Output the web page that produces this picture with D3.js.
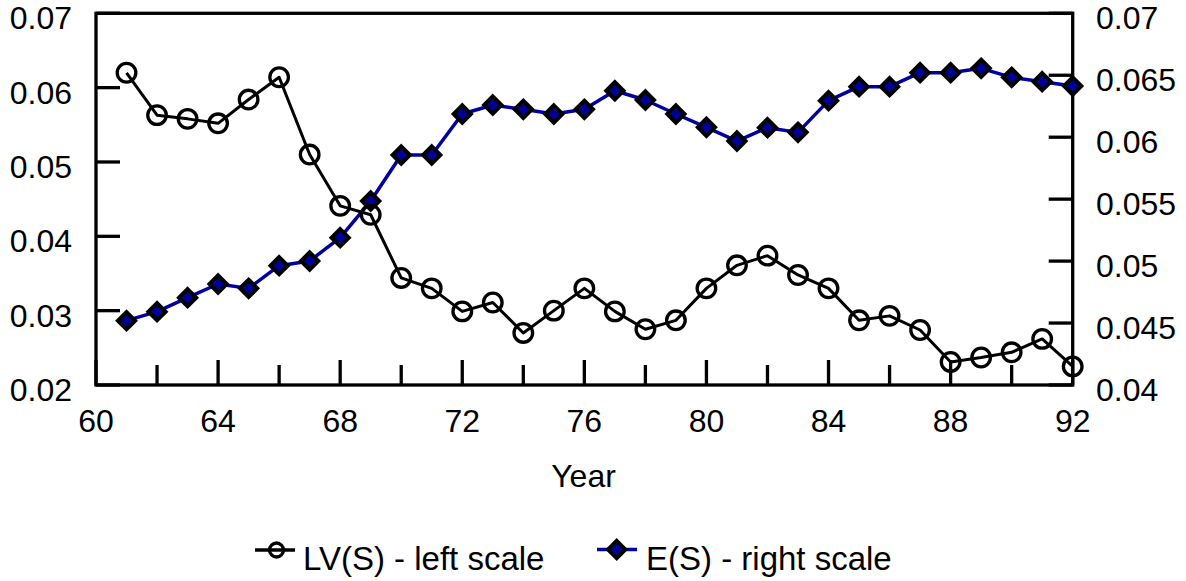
<!DOCTYPE html>
<html>
<head>
<meta charset="utf-8">
<script src="https://cdn.jsdelivr.net/npm/d3@7"></script>
<style>
  html, body { margin: 0; padding: 0; background: #fff; }
  svg { display: block; }
  text { font-family: "Liberation Sans", Arial, sans-serif; fill: #000; }
</style>
</head>
<body>
<svg id="chart" width="1186" height="581"></svg>
<script>
const years = [61,62,63,64,65,66,67,68,69,70,71,72,73,74,75,76,77,78,79,80,81,82,83,84,85,86,87,88,89,90,91,92];
const lvS = [0.0620,0.0563,0.0558,0.0552,0.0584,0.0614,0.0510,0.0441,0.0429,0.0344,0.0330,0.0299,0.0311,0.0270,0.0300,0.0330,0.0299,0.0275,0.0287,0.0330,0.0361,0.0374,0.0348,0.0330,0.0287,0.0293,0.0274,0.0231,0.0237,0.0244,0.0262,0.0225];
const eS = [0.04519,0.04592,0.04705,0.04815,0.04780,0.04963,0.05001,0.05189,0.05485,0.05856,0.05856,0.06187,0.06260,0.06225,0.06187,0.06225,0.06375,0.06300,0.06187,0.06080,0.05969,0.06077,0.06039,0.06295,0.06408,0.06408,0.06521,0.06521,0.06556,0.06483,0.06448,0.06413];
const xTicks = [60,62,64,66,68,70,72,74,76,78,80,82,84,86,88,90,92];
const xLabels = [60,64,68,72,76,80,84,88,92];
const leftTicks = [0.02,0.03,0.04,0.05,0.06,0.07];
const rightTicks = [0.04,0.045,0.05,0.055,0.06,0.065,0.07];
const seriesNames = ["LV(S) - left scale", "E(S) - right scale"];
const xTitle = "Year";

const svg = d3.select("#chart");
const L = 96, R = 1072.7, T = 13.3, B = 385;
const x = d3.scaleLinear().domain([60, 92]).range([L, R]);
const yL = d3.scaleLinear().domain([0.02, 0.07]).range([B, T]);
const yR = d3.scaleLinear().domain([0.04, 0.07]).range([B, T]);
const blue = "#0000a0";
const FS = 32;

// frame
svg.append("rect").attr("x", L).attr("y", T).attr("width", R - L).attr("height", B - T)
  .attr("fill", "none").attr("stroke", "#000").attr("stroke-width", 3.3);

// x ticks (inward)
svg.append("g").selectAll("line").data(xTicks).join("line")
  .attr("x1", d => x(d)).attr("x2", d => x(d))
  .attr("y1", B).attr("y2", d => B - (d % 4 === 0 ? 25 : 20))
  .attr("stroke", "#000").attr("stroke-width", 3.3);
svg.append("g").selectAll("text").data(xLabels).join("text")
  .attr("x", d => x(d)).attr("y", 432).attr("text-anchor", "middle")
  .attr("font-size", FS).text(d => d);

// left ticks
svg.append("g").selectAll("line").data(leftTicks).join("line")
  .attr("x1", L).attr("x2", L + 24).attr("y1", d => yL(d)).attr("y2", d => yL(d))
  .attr("stroke", "#000").attr("stroke-width", 3.3);
svg.append("g").selectAll("text").data(leftTicks).join("text")
  .attr("x", 72).attr("y", d => yL(d) + 16).attr("text-anchor", "end")
  .attr("font-size", FS).text(d => d3.format(".2f")(d));

// right ticks
svg.append("g").selectAll("line").data(rightTicks).join("line")
  .attr("x1", R - 24).attr("x2", R).attr("y1", d => yR(d)).attr("y2", d => yR(d))
  .attr("stroke", "#000").attr("stroke-width", 3.3);
svg.append("g").selectAll("text").data(rightTicks).join("text")
  .attr("x", 1096).attr("y", d => yR(d) + 16).attr("text-anchor", "start")
  .attr("font-size", FS).text(d => String(+d.toFixed(3)));

// axis title
svg.append("text").attr("x", 583.5).attr("y", 487).attr("font-size", FS)
  .attr("text-anchor", "middle").text(xTitle);

// E(S) series (right scale)
const lineE = d3.line().x((d, i) => x(years[i])).y(d => yR(d));
svg.append("path").datum(eS).attr("d", lineE).attr("fill", "none")
  .attr("stroke", blue).attr("stroke-width", 3.5).attr("stroke-linejoin", "round");

// LV(S) series (left scale)
const lineL = d3.line().x((d, i) => x(years[i])).y(d => yL(d));
svg.append("path").datum(lvS).attr("d", lineL).attr("fill", "none")
  .attr("stroke", "#000").attr("stroke-width", 3).attr("stroke-linejoin", "round");

const diamond = (cx, cy, h) => `M${cx},${cy - h}L${cx + h},${cy}L${cx},${cy + h}L${cx - h},${cy}Z`;

svg.append("g").selectAll("path").data(eS).join("path")
  .attr("d", (d, i) => diamond(x(years[i]), yR(d), 8.6))
  .attr("fill", "#000099").attr("stroke", "#000").attr("stroke-width", 4).attr("stroke-linejoin", "miter");

svg.append("g").selectAll("circle").data(lvS).join("circle")
  .attr("cx", (d, i) => x(years[i])).attr("cy", d => yL(d)).attr("r", 9.3)
  .attr("fill", "none").attr("stroke", "#000").attr("stroke-width", 3.3);

// legend
const lg = svg.append("g");
lg.append("line").attr("x1", 255).attr("x2", 295).attr("y1", 550).attr("y2", 550)
  .attr("stroke", "#000").attr("stroke-width", 3.3);
lg.append("circle").attr("cx", 276.5).attr("cy", 550).attr("r", 7)
  .attr("fill", "none").attr("stroke", "#000").attr("stroke-width", 3.3);
lg.append("text").attr("x", 303).attr("y", 570).attr("font-size", 33)
  .text(seriesNames[0]);

lg.append("line").attr("x1", 597).attr("x2", 637).attr("y1", 549.5).attr("y2", 549.5)
  .attr("stroke", blue).attr("stroke-width", 3.5);
lg.append("path").attr("d", diamond(616.7, 549.5, 8.6))
  .attr("fill", "#000099").attr("stroke", "#000").attr("stroke-width", 4);
lg.append("text").attr("x", 646).attr("y", 570).attr("font-size", 33)
  .text(seriesNames[1]);
</script>
</body>
</html>
